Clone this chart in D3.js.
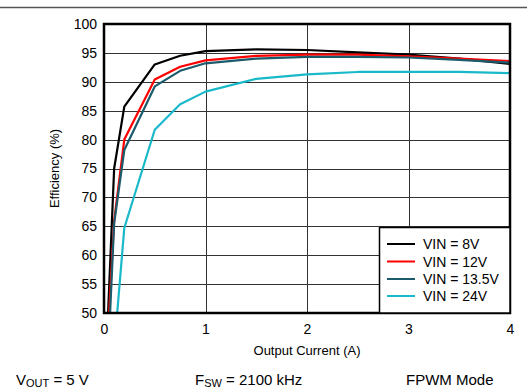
<!DOCTYPE html>
<html><head><meta charset="utf-8">
<script src="https://cdn.jsdelivr.net/npm/d3@7"></script>
<style>
body{margin:0;background:#fff;}
svg{display:block;font-family:"Liberation Sans",Arial,Helvetica,sans-serif;}
</style></head>
<body><svg id="c" width="527" height="391"></svg>
<script>
const seriesNames = ["VIN = 8V","VIN = 12V","VIN = 13.5V","VIN = 24V"];
const seriesColors = ["#000000","#ff0000","#1b5b6b","#19b9c9"];
const vin8 = [[0.04,50],[0.1,75],[0.2,85.7],[0.5,93.0],[0.75,94.5],[1.0,95.3],[1.5,95.6],[2.0,95.5],[2.5,95.1],[3.0,94.7],[3.5,94.0],[4.0,93.1]];
const vin12 = [[0.05,50],[0.1,66],[0.2,80.0],[0.5,90.4],[0.75,92.6],[1.0,93.7],[1.5,94.5],[2.0,94.7],[2.5,94.7],[3.0,94.4],[3.5,94.0],[4.0,93.6]];
const vin135 = [[0.06,50],[0.1,65.5],[0.2,78.2],[0.5,89.2],[0.75,91.9],[1.0,93.2],[1.5,94.0],[2.0,94.3],[2.5,94.3],[3.0,94.2],[3.5,93.8],[4.0,93.3]];
const vin24 = [[0.13,50],[0.2,64.7],[0.5,81.7],[0.75,86.1],[1.0,88.3],[1.5,90.5],[2.0,91.3],[2.5,91.7],[3.0,91.7],[3.5,91.7],[4.0,91.5]];
const xTicks = [0,1,2,3,4];
const yTicks = [50,55,60,65,70,75,80,85,90,95,100];
const seriesData = [vin8, vin12, vin135, vin24];

const svg = d3.select("#c");
const L=104, R=510, T=24, B=313;
const x = d3.scaleLinear().domain([0,4]).range([L,R]);
const y = d3.scaleLinear().domain([50,100]).range([B,T]);

// top rule
svg.append("line").attr("x1",0).attr("x2",527).attr("y1",7.5).attr("y2",7.5)
  .attr("stroke","#555").attr("stroke-width",1.5);

// grid
const g = svg.append("g");
g.selectAll(".gx").data(xTicks.slice(1,-1)).join("line")
  .attr("x1",d=>Math.round(x(d))+0.5).attr("x2",d=>Math.round(x(d))+0.5)
  .attr("y1",T).attr("y2",B).attr("stroke","#333").attr("stroke-width",1);
g.selectAll(".gy").data(yTicks.slice(1,-1)).join("line")
  .attr("y1",d=>Math.round(y(d))+0.5).attr("y2",d=>Math.round(y(d))+0.5)
  .attr("x1",L).attr("x2",R).attr("stroke","#333").attr("stroke-width",1);

// clip
svg.append("clipPath").attr("id","clip").append("rect")
  .attr("x",L).attr("y",T).attr("width",R-L).attr("height",B-T);

const line = d3.line().x(d=>x(d[0])).y(d=>y(d[1]));
svg.append("g").attr("clip-path","url(#clip)")
  .selectAll("path").data(seriesData).join("path")
  .attr("d",line).attr("fill","none")
  .attr("stroke",(d,i)=>seriesColors[i]).attr("stroke-width",2.2)
  .attr("stroke-linejoin","round");

// axes labels
const ax = svg.append("g").attr("transform",`translate(0,${B})`)
  .call(d3.axisBottom(x).tickValues(xTicks).tickSize(0).tickPadding(11).tickFormat(d3.format("d")));
ax.select(".domain").remove();
ax.selectAll("text").attr("font-size",14).attr("fill","#000").attr("font-family","Liberation Sans, Arial, sans-serif");

const ay = svg.append("g").attr("transform",`translate(${L},0)`)
  .call(d3.axisLeft(y).tickValues(yTicks).tickSize(0).tickPadding(7).tickFormat(d3.format("d")));
ay.select(".domain").remove();
ay.selectAll("text").attr("font-size",14).attr("fill","#000").attr("font-family","Liberation Sans, Arial, sans-serif");

// frame
svg.append("rect").attr("x",L).attr("y",T).attr("width",R-L).attr("height",B-T)
  .attr("fill","none").attr("stroke","#000").attr("stroke-width",2.5);

// axis titles
svg.append("text").attr("x",(L+R)/2).attr("y",355).attr("text-anchor","middle")
  .attr("font-size",13).text("Output Current (A)");
svg.append("text").attr("transform",`translate(59,${(T+B)/2}) rotate(-90)`)
  .attr("text-anchor","middle").attr("font-size",13).text("Efficiency (%)");

// legend
const lg = svg.append("g");
lg.append("rect").attr("x",379.5).attr("y",227.5).attr("width",R-379.5).attr("height",B-227.5)
  .attr("fill","#fff").attr("stroke","#000").attr("stroke-width",1.5);
const rowsY = [244,261.5,279,296];
seriesNames.forEach((n,i)=>{
  lg.append("line").attr("x1",387).attr("x2",415).attr("y1",rowsY[i]).attr("y2",rowsY[i])
    .attr("stroke",seriesColors[i]).attr("stroke-width",2);
  lg.append("text").attr("x",423).attr("y",rowsY[i]+5).attr("font-size",14).text(n);
});

// footer
const fy = 385;
const f1 = svg.append("text").attr("x",16).attr("y",fy).attr("font-size",15);
f1.append("tspan").text("V");
f1.append("tspan").attr("font-size",11).attr("dy",2).text("OUT");
f1.append("tspan").attr("dy",-2).text(" = 5 V");
const f2 = svg.append("text").attr("x",195).attr("y",fy).attr("font-size",15);
f2.append("tspan").text("F");
f2.append("tspan").attr("font-size",11).attr("dy",2).text("SW");
f2.append("tspan").attr("dy",-2).text(" = 2100 kHz");
svg.append("text").attr("x",406).attr("y",fy).attr("font-size",15).text("FPWM Mode");
</script></body></html>
